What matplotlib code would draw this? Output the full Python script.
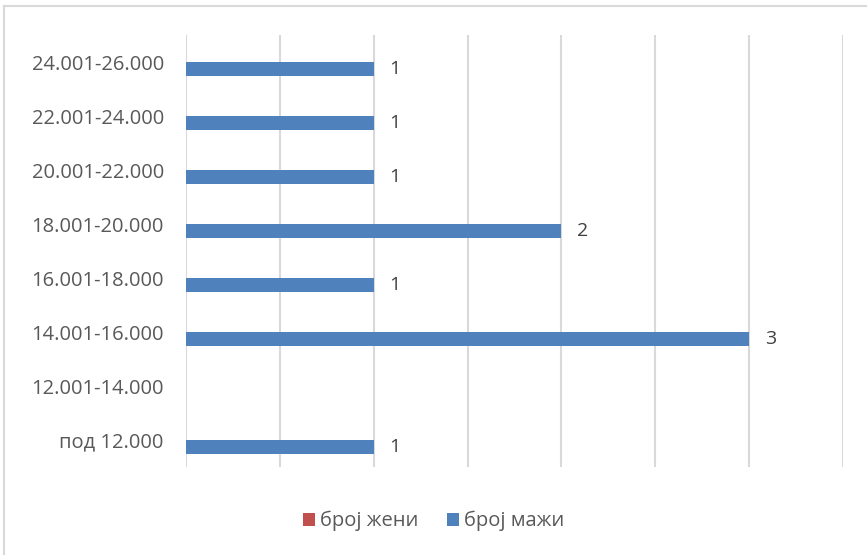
"""Horizontal bar chart: број жени / број мажи by income bracket."""

import matplotlib.pyplot as plt
import numpy as np
from matplotlib.lines import Line2D

categories = [
    "под 12.000",
    "12.001-14.000",
    "14.001-16.000",
    "16.001-18.000",
    "18.001-20.000",
    "20.001-22.000",
    "22.001-24.000",
    "24.001-26.000",
]
women = [0, 0, 0, 0, 0, 0, 0, 0]
men = [1, 0, 3, 1, 2, 1, 1, 1]
men_labels = ["1", "", "3", "1", "2", "1", "1", "1"]

plt.rcParams["font.family"] = ["Open Sans", "DejaVu Sans"]

fig = plt.figure(figsize=(8.67, 5.55), dpi=100)
ax = fig.add_axes([186 / 867, 1 - 467 / 555, (843 - 186) / 867, (467 - 35) / 555])

y = np.arange(len(categories))
h = 0.25
ax.barh(y + h / 2, women, height=h, color="#c0504d", label="број жени")
bars = ax.barh(y - h / 2, men, height=h, color="#4f81bd", label="број мажи")

for bar, lab in zip(bars, men_labels):
    if lab:
        ax.text(
            bar.get_width() + 0.085,
            bar.get_y() + bar.get_height() / 2,
            lab,
            va="center",
            ha="left",
            fontsize=14,
            color="#404040",
        )

ax.set_xlim(0, 3.5)
ax.set_ylim(-0.5, len(categories) - 0.5)
ax.set_xticks(np.arange(0, 3.51, 0.5))
ax.set_xticklabels([])
ax.set_yticks(y)
ax.set_yticklabels(categories, fontsize=14.5, color="#595959")
ax.tick_params(axis="both", length=0)
ax.tick_params(axis="y", pad=16)
ax.grid(axis="x", color="#d9d9d9", linewidth=1.5)
ax.set_axisbelow(True)
for s in ax.spines.values():
    s.set_visible(False)

fig.legend(
    loc="center",
    bbox_to_anchor=(0.5, 1 - 521 / 555),
    ncol=2,
    frameon=False,
    fontsize=14.5,
    handlelength=0.6,
    handleheight=0.6,
    handletextpad=0.25,
    columnspacing=1.4,
    labelcolor="#595959",
)

# light frame around the chart area
fig.add_artist(Line2D([4 / 867, 4 / 867], [0, 1 - 6 / 555], color="#d9d9d9", lw=1.5))
fig.add_artist(Line2D([4 / 867, 1], [1 - 6 / 555, 1 - 6 / 555], color="#d9d9d9", lw=1.5))

fig.savefig("out.png", dpi=100)
